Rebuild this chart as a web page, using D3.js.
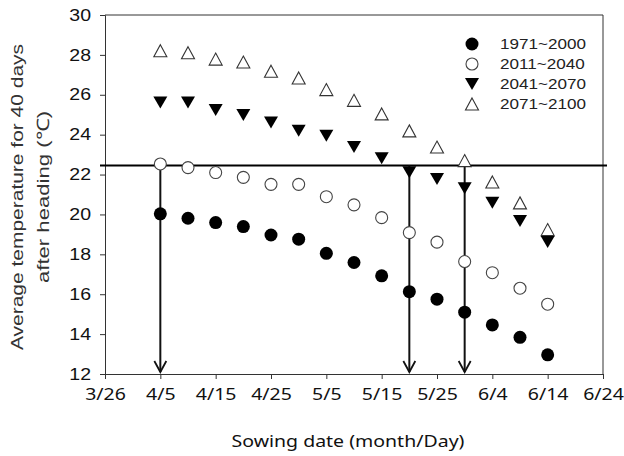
<!DOCTYPE html>
<html>
<head>
<meta charset="utf-8">
<script src="https://cdn.jsdelivr.net/npm/d3@7"></script>
<style>
  html, body { margin: 0; padding: 0; background: #fff; }
  svg { display: block; }
</style>
</head>
<body>
<svg id="chart" width="624" height="456"></svg>
<script>
// ---- data ----
const sowingDates = ["4/5","4/10","4/15","4/20","4/25","4/30","5/5","5/10","5/15","5/20","5/25","5/30","6/4","6/9","6/14"];
const series1971 = [20.03, 19.81, 19.59, 19.39, 18.97, 18.76, 18.05, 17.59, 16.92, 16.13, 15.75, 15.10, 14.46, 13.84, 12.96];
const series2011 = [22.53, 22.35, 22.10, 21.86, 21.51, 21.51, 20.89, 20.48, 19.84, 19.09, 18.61, 17.64, 17.08, 16.30, 15.50];
const series2041 = [25.61, 25.61, 25.24, 24.99, 24.61, 24.20, 23.95, 23.38, 22.82, 22.11, 21.78, 21.31, 20.59, 19.67, 18.62];
const series2071 = [28.21, 28.11, 27.79, 27.64, 27.18, 26.84, 26.26, 25.72, 25.04, 24.19, 23.38, 22.70, 21.63, 20.58, 19.24];
const seriesNames = ["1971~2000", "2011~2040", "2041~2070", "2071~2100"];
const xTickLabels = ["3/26","4/5","4/15","4/25","5/5","5/15","5/25","6/4","6/14","6/24"];
const yTickValues = [12, 14, 16, 18, 20, 22, 24, 26, 28, 30];
const thresholdTemp = 22.45;
const arrowDates = ["4/5", "5/20", "5/30"];

(function () {
const parseMD = s => { const [m, d] = s.split("/").map(Number); return new Date(2001, m - 1, d); };

const svg = d3.select("#chart");
const pL = 105, pR = 603, pT = 15, pB = 374;
const SX = 1.22; // horizontal stretch of the original's text

const x = d3.scaleTime()
  .domain([parseMD("3/26"), parseMD("6/24")])
  .range([pL, pR]);
const y = d3.scaleLinear().domain([12, 30]).range([pB, pT]);

const axisColor = "#333";
const sans = "'Liberation Sans', Arial, sans-serif";
const korean = "'Noto Sans', 'Open Sans', sans-serif";

// frame top & right
svg.append("line").attr("x1", pL).attr("x2", pR).attr("y1", pT).attr("y2", pT)
  .attr("stroke", axisColor).attr("stroke-width", 1);
svg.append("line").attr("x1", pR).attr("x2", pR).attr("y1", pT).attr("y2", pB)
  .attr("stroke", axisColor).attr("stroke-width", 1);

// y axis
const yAxis = d3.axisLeft(y).tickValues(yTickValues).tickSize(5).tickPadding(6).tickFormat(d3.format("d"));
const gy = svg.append("g").attr("transform", `translate(${pL},0)`).call(yAxis);
gy.select(".domain").attr("stroke", axisColor);
gy.selectAll(".tick line").attr("stroke", axisColor);
gy.selectAll(".tick text").attr("font-family", sans)
  .attr("font-size", 16).attr("fill", "#111")
  .attr("x", 0).attr("transform", `translate(-14,0) scale(${SX},1)`);

// x axis
const xAxis = d3.axisBottom(x).tickValues(xTickLabels.map(parseMD)).tickSize(5).tickPadding(10)
  .tickFormat((d, i) => xTickLabels[i]);
const gx = svg.append("g").attr("transform", `translate(0,${pB})`).call(xAxis);
gx.select(".domain").attr("stroke", axisColor);
gx.selectAll(".tick line").attr("stroke", axisColor);
gx.selectAll(".tick text").attr("font-family", korean)
  .attr("font-size", 16).attr("fill", "#111")
  .attr("transform", `scale(${SX},1)`);

// axis titles
svg.append("text").attr("transform", `translate(348,447) scale(${SX},1)`).attr("text-anchor", "middle")
  .attr("font-family", korean).attr("font-size", 16).attr("fill", "#111")
  .text("Sowing date (month/Day)");
const yt = svg.append("text").attr("transform", "translate(0,197) rotate(-90)")
  .attr("text-anchor", "middle").attr("font-family", sans)
  .attr("font-size", 17).attr("fill", "#333");
yt.append("tspan").attr("x", 0).attr("y", 23).attr("textLength", 306).attr("lengthAdjust", "spacingAndGlyphs")
  .text("Average temperature for 40 days");
yt.append("tspan").attr("x", 0).attr("y", 49).attr("textLength", 172).attr("lengthAdjust", "spacingAndGlyphs")
  .text("after heading (℃)");

// threshold line
svg.append("line").attr("x1", 100).attr("x2", 607)
  .attr("y1", y(thresholdTemp)).attr("y2", y(thresholdTemp))
  .attr("stroke", "#000").attr("stroke-width", 2);

// arrows
arrowDates.forEach(ds => {
  const ax = x(parseMD(ds));
  const y0 = y(thresholdTemp), y1 = y(12) - 2;
  svg.append("line").attr("x1", ax).attr("x2", ax).attr("y1", y0).attr("y2", y1)
    .attr("stroke", "#111").attr("stroke-width", 2);
  svg.append("path").attr("d", `M${ax - 6},${y1 - 11} L${ax},${y1} L${ax + 6},${y1 - 11}`)
    .attr("fill", "none").attr("stroke", "#111").attr("stroke-width", 1.8);
});

// marker paths
const triUp = (w, h) => `M0,${-h / 2} L${w / 2},${h / 2} L${-w / 2},${h / 2} Z`;
const triDown = (w, h) => `M0,${h / 2} L${w / 2},${-h / 2} L${-w / 2},${-h / 2} Z`;

function drawMarker(g, type, cx, cy) {
  if (type === 0) {
    g.append("circle").attr("cx", cx).attr("cy", cy).attr("r", 6.5).attr("fill", "#000");
  } else if (type === 1) {
    g.append("circle").attr("cx", cx).attr("cy", cy).attr("r", 6).attr("fill", "#fff")
      .attr("stroke", "#444").attr("stroke-width", 1.1);
  } else if (type === 2) {
    g.append("path").attr("transform", `translate(${cx},${cy})`).attr("d", triDown(14, 12)).attr("fill", "#000");
  } else {
    g.append("path").attr("transform", `translate(${cx},${cy})`).attr("d", triUp(13, 12))
      .attr("fill", "#fff").attr("stroke", "#333").attr("stroke-width", 1.1);
  }
}

const allSeries = [series1971, series2011, series2041, series2071];
const gm = svg.append("g");
[1, 0, 3, 2].forEach(si => {
  allSeries[si].forEach((v, i) => drawMarker(gm, si, x(parseMD(sowingDates[i])), y(v)));
});

// legend
const lg = svg.append("g");
const legendY = [44, 64, 84, 104];
seriesNames.forEach((name, i) => {
  drawMarker(lg, i, 472, legendY[i]);
  lg.append("text").attr("transform", `translate(500,${legendY[i] + 5}) scale(${SX},1)`)
    .attr("font-family", sans).attr("font-size", 14).attr("fill", "#222")
    .text(name);
});
})();
</script>
</body>
</html>
